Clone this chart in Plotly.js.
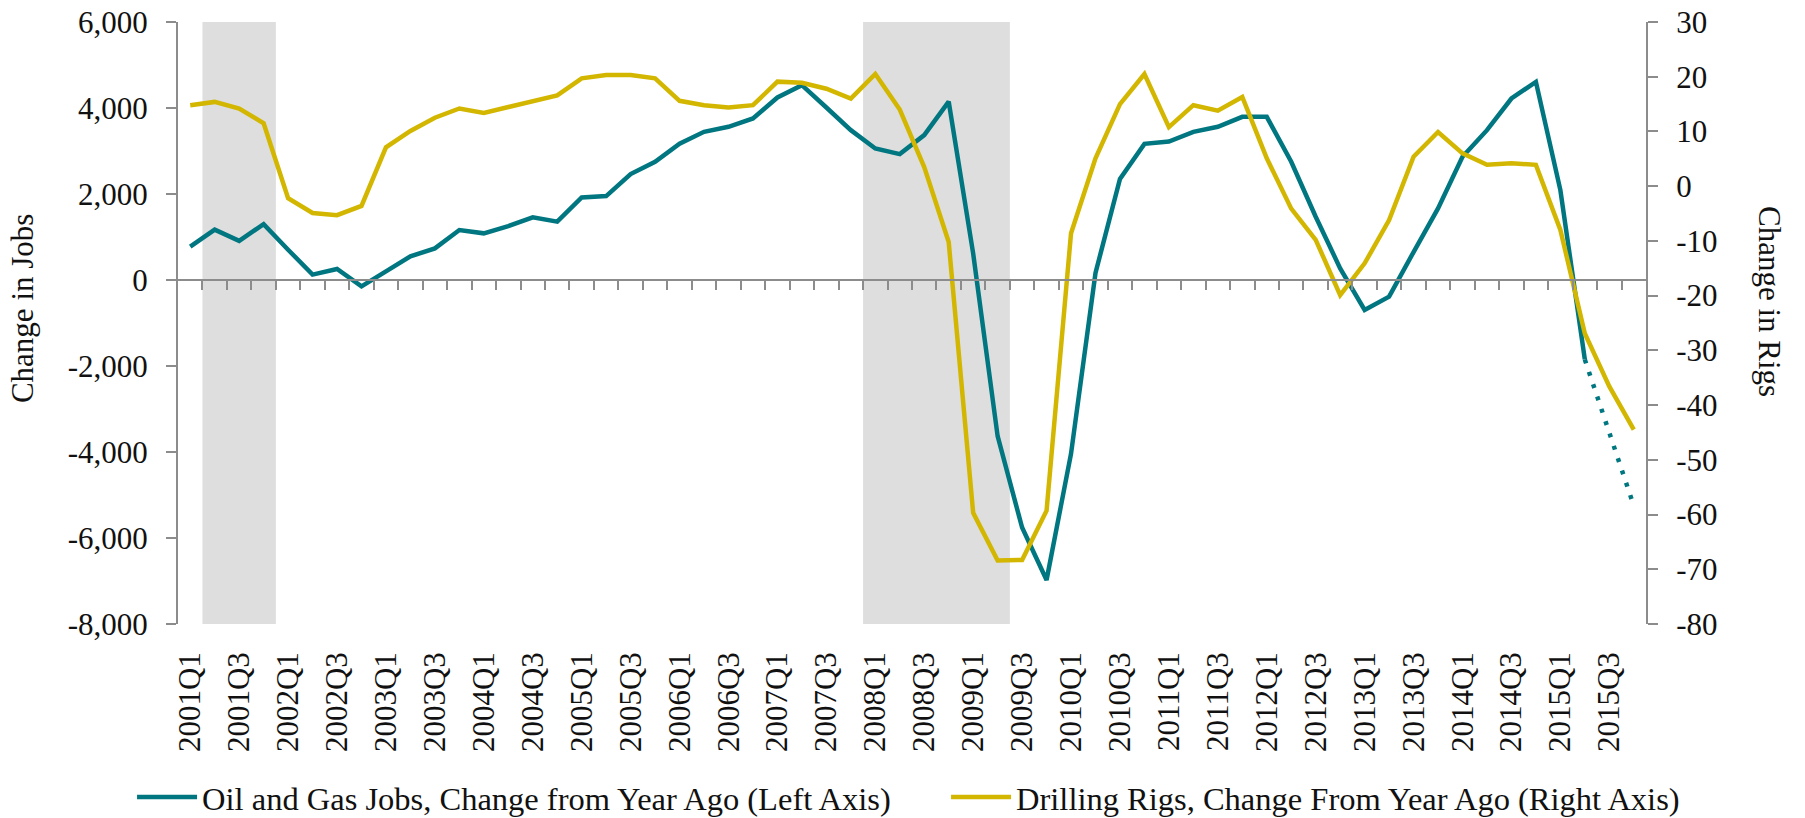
<!DOCTYPE html>
<html>
<head>
<meta charset="utf-8">
<script src="https://cdn.plot.ly/plotly-3.0.1.min.js"></script>
<style>
html,body{margin:0;padding:0;background:#fff;}
#chart{width:1805px;height:818px;}
</style>
</head>
<body>
<div id="chart"></div>
<script>
const quarters = [
  "2001Q1","2001Q2","2001Q3","2001Q4","2002Q1","2002Q2","2002Q3","2002Q4",
  "2003Q1","2003Q2","2003Q3","2003Q4","2004Q1","2004Q2","2004Q3","2004Q4",
  "2005Q1","2005Q2","2005Q3","2005Q4","2006Q1","2006Q2","2006Q3","2006Q4",
  "2007Q1","2007Q2","2007Q3","2007Q4","2008Q1","2008Q2","2008Q3","2008Q4",
  "2009Q1","2009Q2","2009Q3","2009Q4","2010Q1","2010Q2","2010Q3","2010Q4",
  "2011Q1","2011Q2","2011Q3","2011Q4","2012Q1","2012Q2","2012Q3","2012Q4",
  "2013Q1","2013Q2","2013Q3","2013Q4","2014Q1","2014Q2","2014Q3","2014Q4",
  "2015Q1","2015Q2","2015Q3","2015Q4"
];

const jobsChange = [
  775, 1170, 910, 1300, 705, 125, 256, -147,
  201, 550, 735, 1162, 1085, 1255, 1456, 1356,
  1921, 1952, 2463, 2750, 3170, 3446, 3563, 3756,
  4244, 4530, 4012, 3485, 3059, 2927, 3369, 4150,
  616, -3632, -5757, -6977, -4040, 165, 2352, 3166,
  3220, 3446, 3563, 3795, 3795, 2749, 1472, 271,
  -697, -387, 650, 1665, 2866, 3485, 4221, 4608,
  2091, -1850, null, null
];

const jobsProjection = [
  null, null, null, null, null, null, null, null,
  null, null, null, null, null, null, null, null,
  null, null, null, null, null, null, null, null,
  null, null, null, null, null, null, null, null,
  null, null, null, null, null, null, null, null,
  null, null, null, null, null, null, null, null,
  null, null, null, null, null, null, null, null,
  null, -1850, -3550, -5250
];

const rigsChange = [
  14.8, 15.4, 14.2, 11.5, -2.2, -4.9, -5.3, -3.6,
  7.1, 10.1, 12.5, 14.2, 13.4, 14.5, 15.5, 16.6,
  19.7, 20.3, 20.3, 19.7, 15.6, 14.8, 14.4, 14.8,
  19.1, 18.9, 17.8, 16.0, 20.5, 14.0, 3.5, -10.2,
  -59.7, -68.4, -68.3, -59.3, -8.6, 5.1, 15.0, 20.5,
  10.8, 14.8, 13.8, 16.3, 5.1, -4.1, -9.8, -19.9,
  -14.1, -6.2, 5.4, 9.9, 6.0, 3.9, 4.2, 3.9,
  -8.0, -26.9, -36.6, -44.5
];

const recessions = [["2001Q2", "2001Q4"], ["2008Q1", "2009Q2"]];

const xTickLabels = [
  "2001Q1","2001Q3","2002Q1","2002Q3","2003Q1","2003Q3","2004Q1","2004Q3",
  "2005Q1","2005Q3","2006Q1","2006Q3","2007Q1","2007Q3","2008Q1","2008Q3",
  "2009Q1","2009Q3","2010Q1","2010Q3","2011Q1","2011Q3","2012Q1","2012Q3",
  "2013Q1","2013Q3","2014Q1","2014Q3","2015Q1","2015Q3"
];
const jobsTicks = [6000, 4000, 2000, 0, -2000, -4000, -6000, -8000];
const rigsTicks = [30, 20, 10, 0, -10, -20, -30, -40, -50, -60, -70, -80];

const seriesNames = [
  "Oil and Gas Jobs, Change from Year Ago (Left Axis)",
  "Drilling Rigs, Change From Year Ago (Right Axis)"
];
const axisTitles = ["Change in Jobs", "Change in Rigs"];

// ---- build ----
const TEAL = "#007680";
const GOLD = "#D3B600";
const AXIS = "#8C8C8C";
const FONT = "Liberation Serif, Times New Roman, serif";
const FS = 31;

const xIdx = quarters.map((q, i) => i);
const fmt = v => (v < 0 ? "-" : "") + Math.abs(v).toLocaleString("en-US");
const jobsRange = [Math.min(...jobsTicks), Math.max(...jobsTicks)];
const rigsRange = [Math.min(...rigsTicks), Math.max(...rigsTicks)];
const xRange = [-0.5, quarters.length - 0.5];
const zeroPos = (0 - jobsRange[0]) / (jobsRange[1] - jobsRange[0]);
const boundaries = quarters.slice(1).map((q, i) => i + 0.5);

const traces = [
  {
    x: xIdx, y: jobsChange, type: "scatter", mode: "lines",
    name: seriesNames[0], xaxis: "x", yaxis: "y",
    line: {color: TEAL, width: 4.5}, hoverinfo: "skip"
  },
  {
    x: xIdx, y: rigsChange, type: "scatter", mode: "lines",
    name: seriesNames[1], xaxis: "x", yaxis: "y2",
    line: {color: GOLD, width: 4.5}, hoverinfo: "skip"
  },
  {
    x: xIdx, y: jobsProjection, type: "scatter", mode: "lines",
    name: "projection", showlegend: false, xaxis: "x2", yaxis: "y",
    line: {color: TEAL, width: 4.5, dash: "4px,9px"}, hoverinfo: "skip"
  }
];

const shapes = recessions.map(r => ({
  type: "rect", xref: "x", yref: "paper",
  x0: quarters.indexOf(r[0]) - 0.5, x1: quarters.indexOf(r[1]) + 0.5,
  y0: 0, y1: 1, fillcolor: "#DEDEDE", line: {width: 0}, layer: "below"
}));

const tickFont = {family: FONT, size: FS, color: "#111"};

const layout = {
  width: 1805, height: 818, autosize: false,
  margin: {l: 178, r: 159, t: 22, b: 194, autoexpand: false},
  paper_bgcolor: "#fff", plot_bgcolor: "rgba(0,0,0,0)",
  font: {family: FONT, size: FS, color: "#111"},
  showlegend: true,
  legend: {
    orientation: "h", x: -0.0313, xanchor: "left", y: -0.288, yanchor: "middle",
    font: {family: FONT, size: 32.5, color: "#111"}, itemwidth: 60,
    entrywidth: 739, entrywidthmode: "pixels",
    bgcolor: "rgba(0,0,0,0)"
  },
  xaxis: {
    range: xRange, showgrid: false, zeroline: false, showline: false,
    ticks: "", tickvals: xTickLabels.map(l => quarters.indexOf(l)),
    ticktext: xTickLabels, tickangle: -90, tickfont: tickFont,
    ticklabelstandoff: 21
  },
  xaxis2: {
    range: xRange, overlaying: "x", anchor: "free", position: zeroPos,
    showgrid: false, zeroline: false, showline: true, linecolor: AXIS, linewidth: 2,
    ticks: "outside", ticklen: 9, tickwidth: 2, tickcolor: AXIS,
    tickvals: boundaries, showticklabels: false
  },
  yaxis: {
    range: jobsRange, showgrid: false, zeroline: false,
    showline: true, linecolor: AXIS, linewidth: 2,
    ticks: "outside", ticklen: 10, tickwidth: 2, tickcolor: AXIS,
    tickvals: jobsTicks, ticktext: jobsTicks.map(fmt), tickfont: tickFont,
    ticklabelstandoff: 12
  },
  yaxis2: {
    range: rigsRange, overlaying: "y", side: "right", anchor: "x",
    showgrid: false, zeroline: false,
    showline: true, linecolor: AXIS, linewidth: 2,
    ticks: "outside", ticklen: 10, tickwidth: 2, tickcolor: AXIS,
    tickvals: rigsTicks, ticktext: rigsTicks.map(fmt), tickfont: tickFont,
    ticklabelstandoff: 12
  },
  shapes: shapes,
  annotations: [
    {
      text: axisTitles[0], xref: "paper", yref: "paper",
      x: -0.1054, y: 0.5236, xanchor: "center", yanchor: "middle",
      textangle: -90, showarrow: false, font: {family: FONT, size: FS, color: "#111"}
    },
    {
      text: axisTitles[1], xref: "paper", yref: "paper",
      x: 1.0845, y: 0.5365, xanchor: "center", yanchor: "middle",
      textangle: 90, showarrow: false, font: {family: FONT, size: FS, color: "#111"}
    }
  ]
};

Plotly.newPlot("chart", traces, layout, {displayModeBar: false, staticPlot: true});
</script>
</body>
</html>
